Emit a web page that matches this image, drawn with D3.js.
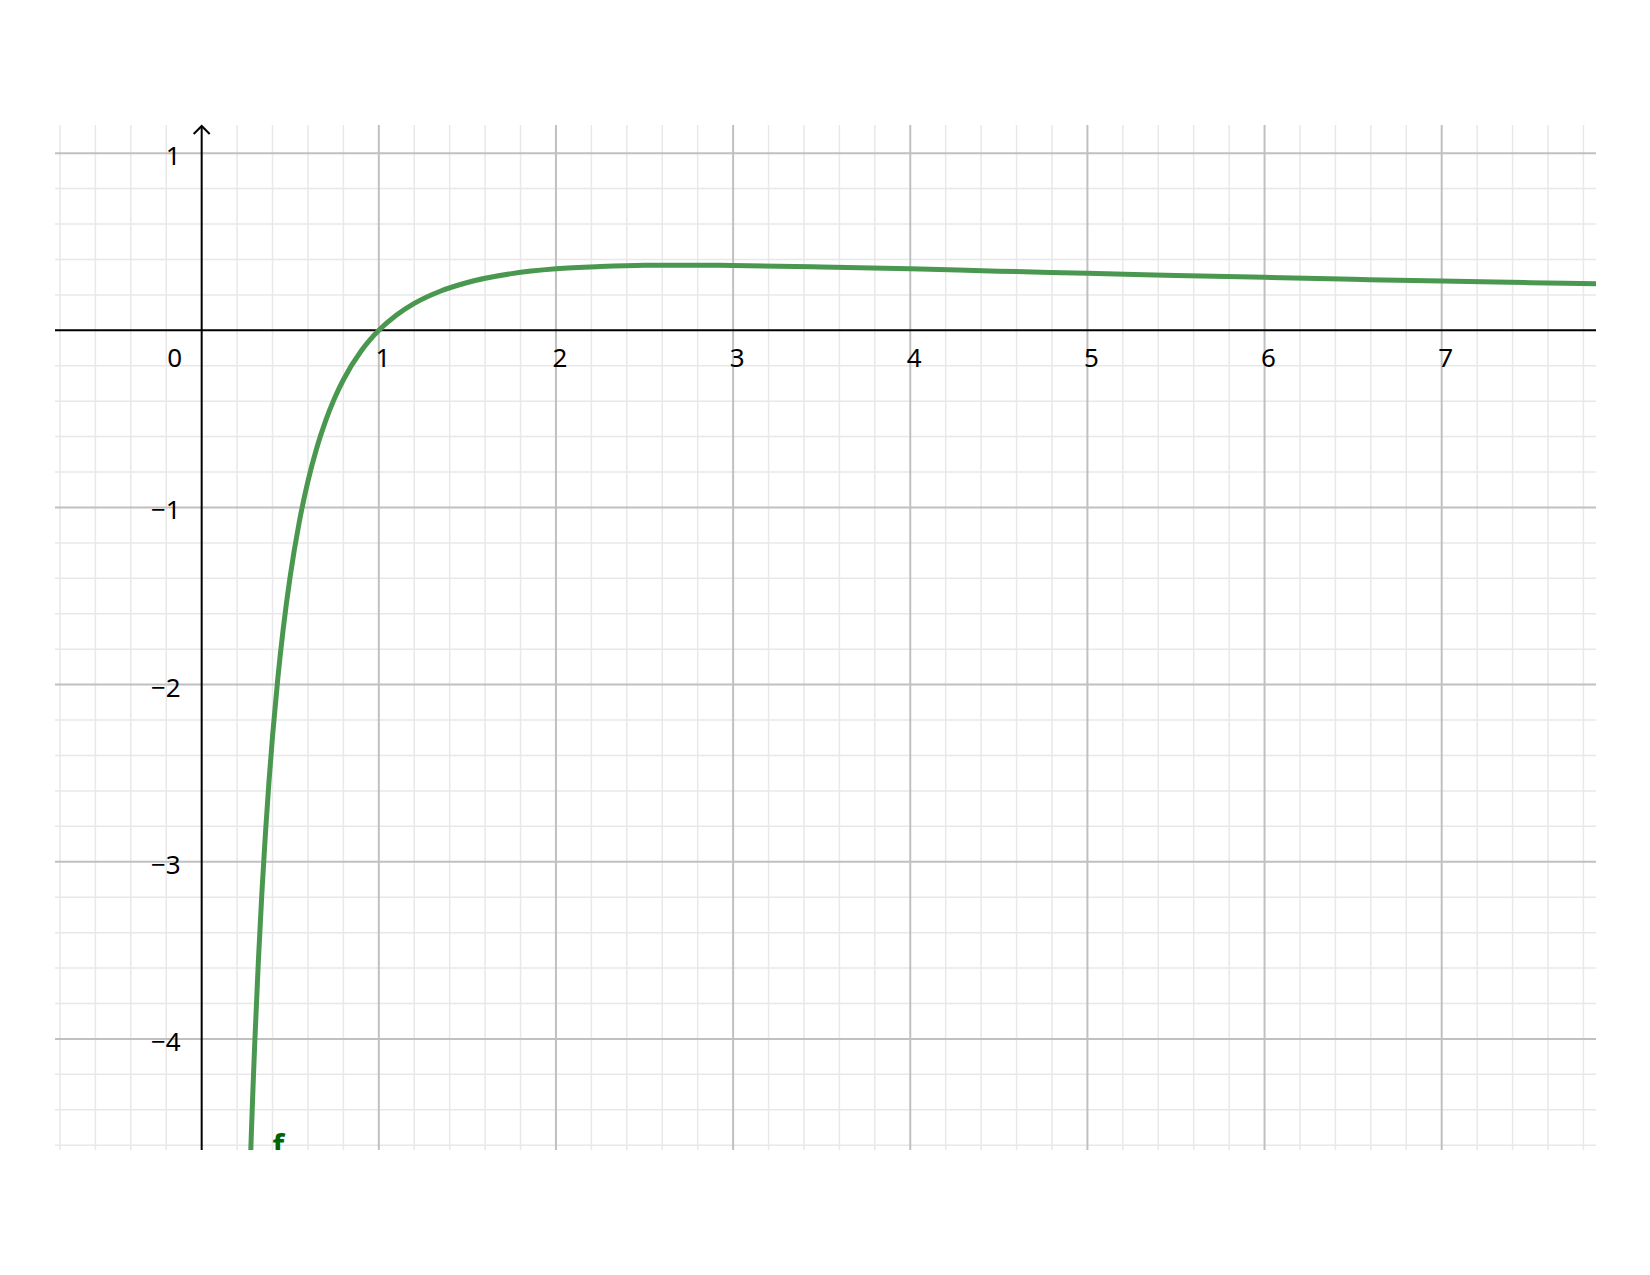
<!DOCTYPE html>
<html><head><meta charset="utf-8">
<script src="https://cdn.jsdelivr.net/npm/d3@7"></script>
<style>html,body{margin:0;padding:0;background:#fff;} text{font-family:"Noto Sans","DejaVu Sans",sans-serif;}</style>
</head><body>
<svg id="c" width="1650" height="1275"></svg>
<script>
const xDomain = [-0.828, 7.871];
const yDomain = [-4.627, 1.159];
const xTickLabels = ["0","1","2","3","4","5","6","7"];
const xTickValues = [0,1,2,3,4,5,6,7];
const yTickValues = [1,-1,-2,-3,-4];
const yTickLabels = ["1","\u22121","\u22122","\u22123","\u22124"];
const curveX = [0.27,0.28,0.29,0.30,0.32,0.34,0.36,0.38,0.40,0.43,0.46,0.50,0.55,0.60,0.65,0.70,0.75,0.80,0.90,1.0,1.1,1.2,1.35,1.5,1.75,2.0,2.25,2.5,2.75,3.0,3.5,4.0,4.5,5.0,5.5,6.0,6.5,7.0,7.5,7.9];
const curveY = [-4.849,-4.546,-4.269,-4.013,-3.561,-3.173,-2.838,-2.546,-2.291,-1.963,-1.688,-1.386,-1.087,-0.851,-0.663,-0.510,-0.384,-0.279,-0.117,0,0.0866,0.152,0.222,0.270,0.320,0.347,0.360,0.367,0.368,0.366,0.358,0.347,0.334,0.322,0.310,0.299,0.288,0.278,0.269,0.262];
const seriesName = "f";

const L = 55, R = 1596, T = 125, B = 1150;
const x = d3.scaleLinear().domain(xDomain).range([L, R]);
const y = d3.scaleLinear().domain(yDomain).range([B, T]);
const svg = d3.select("#c");

svg.append("defs").append("clipPath").attr("id","clip")
  .append("rect").attr("x",L).attr("y",T).attr("width",R-L).attr("height",B-T);

const minorX = d3.range(-4, 40).map(i => i/5).filter(v => v>=xDomain[0] && v<=xDomain[1] && Math.abs(v-Math.round(v))>1e-9);
const minorY = d3.range(-23, 6).map(i => i/5).filter(v => v>=yDomain[0] && v<=yDomain[1] && Math.abs(v-Math.round(v))>1e-9);
const majorX = d3.range(0, 8).filter(v => v!==0);
const majorY = d3.range(-4, 2).filter(v => v!==0);

const g = svg.append("g");
g.selectAll(".mx").data(minorX).enter().append("line")
  .attr("x1",d=>x(d)).attr("x2",d=>x(d)).attr("y1",T).attr("y2",B)
  .attr("stroke","#e8e8e8").attr("stroke-width",1.5);
g.selectAll(".my").data(minorY).enter().append("line")
  .attr("y1",d=>y(d)).attr("y2",d=>y(d)).attr("x1",L).attr("x2",R)
  .attr("stroke","#e8e8e8").attr("stroke-width",1.5);
g.selectAll(".Mx").data(majorX).enter().append("line")
  .attr("x1",d=>x(d)).attr("x2",d=>x(d)).attr("y1",T).attr("y2",B)
  .attr("stroke","#c0c0c0").attr("stroke-width",2);
g.selectAll(".My").data(majorY).enter().append("line")
  .attr("y1",d=>y(d)).attr("y2",d=>y(d)).attr("x1",L).attr("x2",R)
  .attr("stroke","#c0c0c0").attr("stroke-width",2);

// axes
svg.append("line").attr("x1",L).attr("x2",R).attr("y1",y(0)).attr("y2",y(0)).attr("stroke","#000").attr("stroke-width",2);
svg.append("line").attr("x1",x(0)).attr("x2",x(0)).attr("y1",T+2).attr("y2",B).attr("stroke","#000").attr("stroke-width",2);
svg.append("path").attr("d",`M${x(0)-8},${T+9} L${x(0)},${T+1} L${x(0)+8},${T+9}`)
  .attr("fill","none").attr("stroke","#000").attr("stroke-width",2);

// tick labels
svg.selectAll(".xl").data(xTickValues).enter().append("text")
  .attr("x",(d)=> d===0 ? x(0)-27 : x(d)+4)
  .attr("y",y(0)+37)
  .attr("text-anchor","middle")
  .attr("font-size",26).attr("fill","#000")
  .text((d,i)=>xTickLabels[i]);
svg.selectAll(".yl").data(yTickValues).enter().append("text")
  .attr("x",x(0)-21).attr("y",d=>y(d)+12)
  .attr("text-anchor","end").attr("font-size",26).attr("fill","#000")
  .text((d,i)=>yTickLabels[i]);

// curve
const pts = curveX.map((v,i)=>[v,curveY[i]]);
const line = d3.line().x(d=>x(d[0])).y(d=>y(d[1])).curve(d3.curveMonotoneX);
svg.append("path").datum(pts).attr("clip-path","url(#clip)")
  .attr("d",line).attr("fill","none").attr("stroke","#4a9850").attr("stroke-width",5);

// label f (clipped)
svg.append("text").attr("clip-path","url(#clip)")
  .attr("x",x(0.4)).attr("y",B+6)
  .attr("font-size",30).attr("font-weight","bold").attr("fill","#006400").text(seriesName);
</script>
</body></html>
